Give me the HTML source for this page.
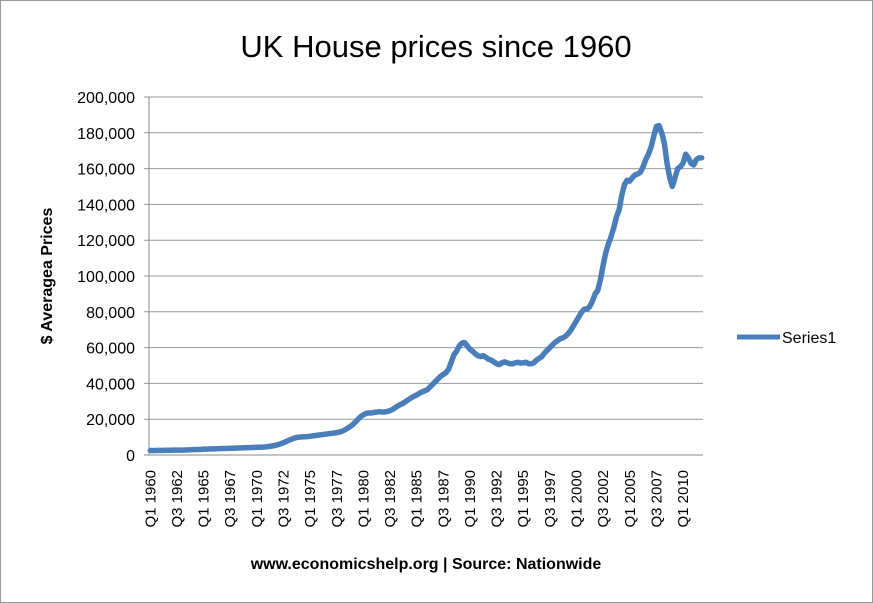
<!DOCTYPE html>
<html><head><meta charset="utf-8"><style>
body{margin:0;background:#fff;}
svg{display:block;font-family:"Liberation Sans",sans-serif;}
</style></head><body>
<svg id="c" width="873" height="603">
<rect x="0.5" y="0.5" width="872" height="602" fill="#fff" stroke="#999"/>
<text x="436" y="57" font-size="31" text-anchor="middle">UK House prices since 1960</text>
<text transform="translate(52,276) rotate(-90)" font-size="16" font-weight="bold" text-anchor="middle">$ Averagea Prices</text>
<text x="426" y="569" font-size="16" font-weight="bold" text-anchor="middle">www.economicshelp.org | Source: Nationwide</text>
<g id="grid"></g><g id="xl"></g><g id="yl"></g>
<g>
<line x1="737" y1="337" x2="780" y2="337" stroke="#4A7EBB" stroke-width="5"/>
<text x="782" y="343" font-size="16">Series1</text>
</g>
</svg>
<script>
const yTicks=[0,20000,40000,60000,80000,100000,120000,140000,160000,180000,200000];
const startYear=1960;
const prices=[
2500,2520,2540,2560, 2580,2600,2620,2650, 2670,2690,2700,2720, 2750,2800,2850,2900,
3000,3050,3100,3150, 3250,3300,3350,3400, 3450,3500,3550,3600, 3650,3700,3750,3800,
3850,3900,3950,4000, 4100,4150,4200,4250, 4300,4350,4400,4500, 4700,4900,5100,5400,
5800,6300,6900,7500, 8200,8800,9400,9800, 10000,10100,10200,10300, 10500,10700,10900,11100,
11300,11500,11700,11900, 12100,12300,12500,12800, 13300,14000,14900,15900, 17000,18500,20000,21500,
22500,23200,23500,23500, 23800,24000,24200,24000, 24000,24300,24800,25500, 26500,27500,28300,29000,
30000,31000,32000,32800, 33500,34500,35200,35800, 36500,38000,39500,41000, 42500,44000,45000,46000,
48000,52000,56000,58000, 61000,62500,62800,61000, 59000,58000,56500,55500, 55000,55500,54500,53500,
53000,52000,51000,50500, 51500,52000,51500,51000, 51000,51500,51800,51300, 51500,51800,51000,51000,
51500,53000,54000,55000, 57000,58500,60000,61500, 63000,64000,65000,65500, 66500,68000,70000,72500,
75000,77500,80000,81500, 81500,83000,86000,90000, 92000,98000,106000,113000, 118000,122000,127000,133000,
137000,145000,151000,153500, 153000,155000,156500,157000, 158000,161000,165000,168000, 172000,178000,183500,184000,
180000,174000,163000,155000, 150000,155000,160000,161000, 163000,168000,166000,163000, 162000,165000,166000,166000];
const NS="http://www.w3.org/2000/svg";
const L=149,R=703,T=97,B=455;
const n=prices.length;
const xs=i=>L+(R-L)*(i+0.5)/n;
const ys=v=>B-(B-T)*v/200000;
const svg=document.getElementById('c');
const grid=document.getElementById('grid'),yl=document.getElementById('yl'),xl=document.getElementById('xl');
function mk(t,a,p){const e=document.createElementNS(NS,t);for(const k in a)e.setAttribute(k,a[k]);p.appendChild(e);return e;}
yTicks.forEach(v=>{
 const g=mk('line',{x1:L-5,x2:R,y1:ys(v),y2:ys(v),stroke:v===0?'#888':'#999','stroke-width':1},grid);
 
 
 const t=mk('text',{x:L-14,y:ys(v)+6,'font-size':16,'text-anchor':'end'},yl);
 t.textContent=v.toLocaleString('en-US');
 
 
});
const ax=mk('line',{x1:L,x2:L,y1:T,y2:B,stroke:'#888'},grid);


for(let i=0;i<n;i+=10){
 const yr=startYear+Math.floor(i/4),q=i%4+1;
 const x=xs(i)+5;
 const t=mk('text',{transform:`translate(${x},470) rotate(-90)`,'font-size':15,'text-anchor':'end'},xl);
 t.textContent='Q'+q+' '+yr;
 
 
}
const d=prices.map((v,i)=>(i?'L':'M')+xs(i).toFixed(2)+','+ys(v).toFixed(2)).join('');
const p=mk('path',{d:d,fill:'none',stroke:'#4A7EBB','stroke-width':5.5,'stroke-linejoin':'round','stroke-linecap':'round'},svg);


</script>
</body></html>
